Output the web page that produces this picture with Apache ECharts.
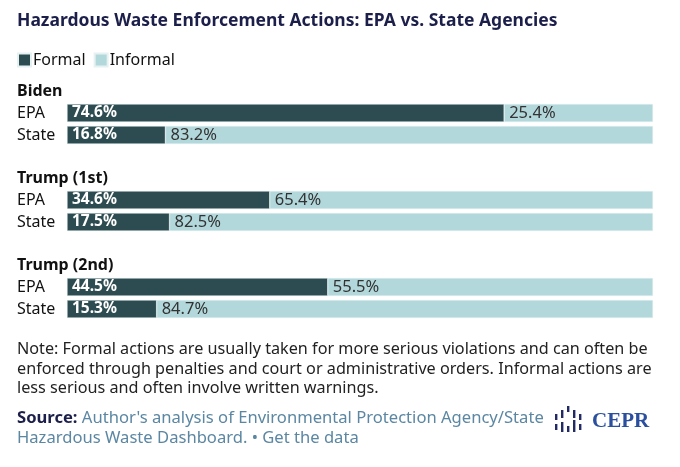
<!DOCTYPE html>
<html>
<head>
<meta charset="utf-8">
<script src="https://cdn.jsdelivr.net/npm/echarts@6/dist/echarts.min.js"></script>
<style>
    html, body { margin: 0; padding: 0; background: #fff; }
    #chart { width: 680px; height: 467px; }
</style>
</head>
<body>
<div id="chart"></div>
<script>
var groups = ['Biden', 'Trump (1st)', 'Trump (2nd)'];
var agencies = ['EPA', 'State'];
var formal = [[74.6, 16.8], [34.6, 17.5], [44.5, 15.3]];
var informal = [[25.4, 83.2], [65.4, 82.5], [55.5, 84.7]];

var FONT = '"Noto Sans", sans-serif';
var DARK = '#2d4c51';
var LIGHT = '#b3d8db';
var NAVY = '#1c1f4a';

var chart = {
    init() {
        var myChart = echarts.init(document.getElementById('chart'));
        var grids = [], xAxes = [], yAxes = [], series = [], titles = [];
        var tops = [102, 189, 276];

        titles.push({
            text: 'Hazardous Waste Enforcement Actions: EPA vs. State Agencies',
            left: 12, top: 7,
            textStyle: { fontFamily: FONT, fontSize: 17.5, fontWeight: 'bold', color: NAVY }
        });

        groups.forEach(function (g, i) {
            grids.push({ left: 67, right: 27, top: tops[i], height: 44 });
            xAxes.push({ gridIndex: i, type: 'value', min: 0, max: 100, show: false });
            yAxes.push({
                gridIndex: i, type: 'category', data: agencies, inverse: true,
                axisLine: { show: false }, axisTick: { show: false },
                axisLabel: { align: 'left', margin: 50, fontFamily: FONT, fontSize: 16, color: '#111' }
            });
            titles.push({
                text: g, left: 12, top: tops[i] - 24,
                textStyle: { fontFamily: FONT, fontSize: 16, fontWeight: 'bold', color: '#111' }
            });
            series.push({
                name: 'Formal', type: 'bar', stack: 's' + i, xAxisIndex: i, yAxisIndex: i,
                barWidth: 18, data: formal[i],
                itemStyle: { color: DARK, borderColor: '#e6f1f2', borderWidth: 0.5 },
                label: {
                    show: true, position: 'insideLeft', distance: 5, formatter: '{c}%',
                    fontFamily: FONT, fontSize: 15.5, fontWeight: 'bold', color: '#fff'
                }
            });
            series.push({
                name: 'Informal', type: 'bar', stack: 's' + i, xAxisIndex: i, yAxisIndex: i,
                barWidth: 18, data: informal[i],
                itemStyle: { color: LIGHT, borderColor: '#e6f1f2', borderWidth: 0.5 },
                label: {
                    show: true, position: 'insideLeft', distance: 5, formatter: '{c}%',
                    fontFamily: FONT, fontSize: 16.5, color: '#333'
                }
            });
        });

        titles.push({
            text: 'Note: Formal actions are usually taken for more serious violations and can often be\n' +
                'enforced through penalties and court or administrative orders. Informal actions are\n' +
                'less serious and often involve written warnings.',
            left: 12, top: 335,
            textStyle: { fontFamily: FONT, fontSize: 16.2, fontWeight: 'normal', color: '#222', lineHeight: 19.5 }
        });
        titles.push({
            text: '{b|Source:} Author\'s analysis of Environmental Protection Agency/State\nHazardous Waste Dashboard. \u2022 Get the data',
            left: 12, top: 403,
            textStyle: {
                fontFamily: FONT, fontSize: 16.6, fontWeight: 'normal', color: '#5b87a3', lineHeight: 20,
                rich: { b: { fontFamily: FONT, fontSize: 16.6, fontWeight: 'bold', color: NAVY, lineHeight: 20 } }
            }
        });

        // logo marks
        var logo = [];
        var marks = [[0, 8, 6], [6, 4, 8], [12, 0, 6], [18, 4, 8], [24, 8, 6],
            [0, 18, 6], [6, 16, 10], [12, 20, 6], [18, 14, 12], [24, 18, 6]];
        marks.forEach(function (m) {
            logo.push({ type: 'rect', shape: { x: 555 + m[0], y: 406 + m[1], width: 2.4, height: m[2] }, style: { fill: '#222a66' } });
        });
        logo.push({
            type: 'text', left: 592, top: 411,
            style: { text: 'CEPR', fill: '#2a4f9e', font: 'bold 21px "Liberation Serif", serif' }
        });

        var option = {
            animation: false,
            title: titles,
            legend: {
                data: ['Formal', 'Informal'], left: 12, top: 47, icon: 'rect',
                itemWidth: 13, itemHeight: 13, itemGap: 8,
                textStyle: { fontFamily: FONT, fontSize: 16, color: '#111', padding: [0, 0, 0, -3] }
            },
            grid: grids, xAxis: xAxes, yAxis: yAxes, series: series,
            graphic: logo
        };
        myChart.setOption(option, true);
    }
};

chart.init();
</script>
</body>
</html>
